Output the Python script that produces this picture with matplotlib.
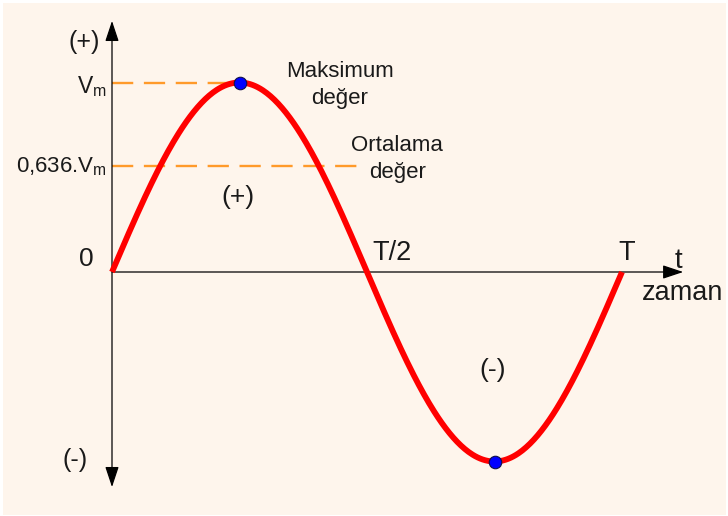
import numpy as np
import matplotlib
matplotlib.use("Agg")
import matplotlib.pyplot as plt
from matplotlib.patches import Rectangle

plt.rcParams['font.family'] = ['Liberation Sans', 'DejaVu Sans']
plt.rcParams['mathtext.fontset'] = 'custom'
plt.rcParams['mathtext.rm'] = 'Liberation Sans'
plt.rcParams['text.color'] = '#1a1a1a'

# data
T = 1.0
Vm = 1.0
avg_level = 0.56          # where the "0,636.Vm" line sits in the picture
peak_t = [0.25, 0.75]
peak_v = [1.0, -1.0]
avg_line_end = 0.482
t = np.linspace(0, T, 400)
v = Vm * np.sin(2 * np.pi * t / T)

W, H = 728, 516
fig = plt.figure(figsize=(W / 100, H / 100), dpi=100, facecolor="white")
ax = fig.add_axes([0, 0, 1, 1])
ax.set_facecolor("none")
ax.axis("off")
ax.add_patch(Rectangle((3 / W, 1 / H), 723 / W, 512 / H, transform=ax.transAxes,
                       facecolor="#FEF5EC", edgecolor="none", zorder=0, clip_on=False))

# pixel mapping: t=0 -> 112px, t=T -> 622px ; v=0 -> 272px, v=Vm -> 84px
sx = 510.0
sy = 189.5
ax.set_xlim(-112 / sx, (W - 112) / sx)
ax.set_ylim(-(H - 272) / sy, 272 / sy)

# axes with arrows
ax.annotate("", xy=(0, 1.325), xytext=(0, -1.135),
            arrowprops=dict(arrowstyle="<|-|>,head_length=0.9,head_width=0.3",
                            color="black", lw=0.9,
                            mutation_scale=14, shrinkA=0, shrinkB=0))
ax.annotate("", xy=(1.12, 0), xytext=(0, 0),
            arrowprops=dict(arrowstyle="-|>,head_length=0.9,head_width=0.3",
                            color="black", lw=0.9,
                            mutation_scale=14, shrinkA=0, shrinkB=0))

# dashed guide lines
ax.plot([0, peak_t[0]], [Vm, Vm], color="#FF9A2A", lw=1.7, dashes=(9, 4.5), zorder=2)
ax.plot([0, avg_line_end], [avg_level, avg_level], color="#FF9A2A", lw=1.7,
        dashes=(9, 4.5), zorder=2)

# sine
ax.plot(t, v, color="#FF0000", lw=4.2, solid_capstyle="butt", zorder=3)
ax.plot(peak_t, peak_v, "o", color="#0000FF", mec="#10104A", mew=0.8, ms=9, zorder=4)

ax.text(-0.055, 1.214, "(+)", fontsize=18, ha="center", va="center")
ax.text(-0.072, -0.99, "(-)", fontsize=18, ha="center", va="center")
ax.text(-0.010, 0.98, r"$\mathrm{V_m}$", fontsize=16.5, ha="right", va="center")
ax.text(-0.010, 0.555, r"0,636.$\mathrm{V_m}$", fontsize=16, ha="right", va="center")
ax.text(-0.051, 0.069, "0", fontsize=19, ha="center", va="center")
ax.text(0.447, 0.987, "Maksimum\ndeğer", fontsize=16, ha="center", va="center",
        linespacing=1.32)
ax.text(0.559, 0.596, "Ortalama\ndeğer", fontsize=16, ha="center", va="center",
        linespacing=1.32)
ax.text(0.247, 0.396, "(+)", fontsize=19, ha="center", va="center")
ax.text(0.747, -0.517, "(-)", fontsize=19, ha="center", va="center")
ax.text(0.51, 0.10, "T/2", fontsize=19.5, ha="left", va="center")
ax.text(1.01, 0.10, "T", fontsize=19.5, ha="center", va="center")
ax.text(1.11, 0.06, "t", fontsize=20, ha="center", va="center")
ax.text(1.039, -0.111, "zaman", fontsize=19.5, ha="left", va="center")

fig.savefig("out.png", dpi=100, facecolor="white")
